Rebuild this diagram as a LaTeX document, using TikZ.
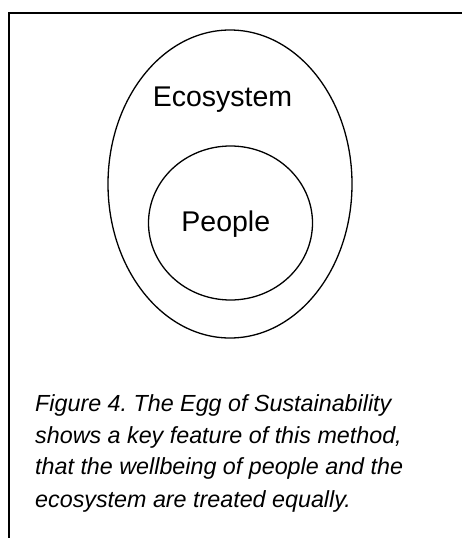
\documentclass[tikz,border=0pt]{standalone}
\usepackage{fontspec}
\setmainfont{Liberation Sans}
\usetikzlibrary{shapes.geometric}
\frenchspacing
\tikzset{
  ring/.style={draw,ellipse,line width=1.3pt,inner sep=0pt},
  bigword/.style={anchor=base,font=\fontsize{28.5}{34}\selectfont},
  capline/.style={anchor=base west,inner sep=0pt,font=\fontsize{23.3}{31.5}\selectfont\itshape}
}

\begin{document}
\begin{tikzpicture}[x=1pt,y=-1pt]
                    \useasboundingbox (0,0) rectangle (461,538);
                    \draw[line width=2pt] (462,12.5)--(8.5,12.5)--(8.5,539);
                    \node[ring,minimum width=244pt,minimum height=308pt] (egg) at (230,184) {};
                    \node[ring,minimum width=164pt,minimum height=154pt] (yolk) at (230.5,223) {};
                    \node[bigword] (eco) at (222.5,106.7) {Ecosystem};
                    \node[bigword] (ppl) at (225.8,231.7) {People};
                    \node[capline] (cap1) at (35,411.7) {Figure 4. The Egg of Sustainability};
                    \node[capline] (cap2) at (35,443.2) {shows a key feature of this method,};
                    \node[capline] (cap3) at (35,474.5) {that the wellbeing of people and the};
                    \node[capline] (cap4) at (35,507.8) {ecosystem are treated equally.};
                \end{tikzpicture}
\end{document}
